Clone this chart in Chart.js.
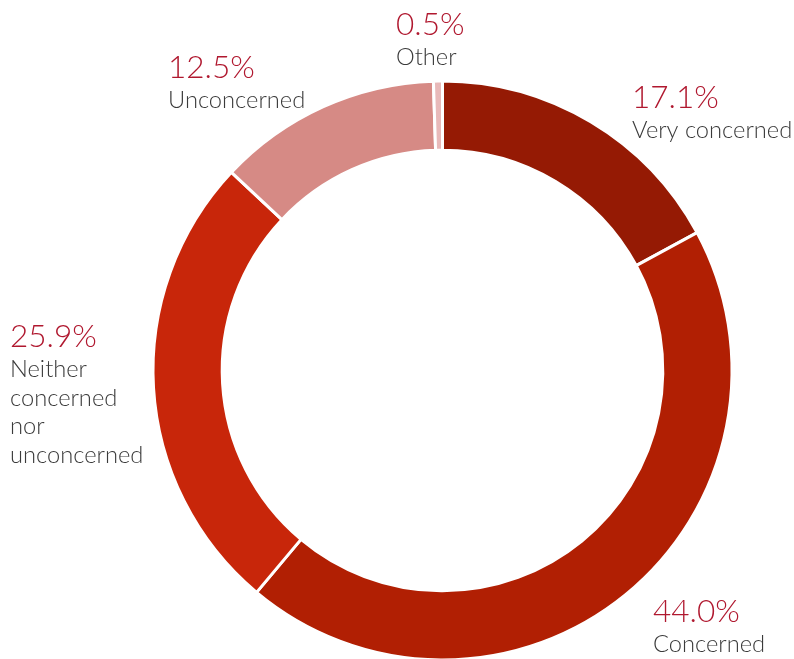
<!DOCTYPE html>
<html><head><meta charset="utf-8">
<script src="https://cdn.jsdelivr.net/npm/chart.js@4/dist/chart.umd.min.js"></script>
<style>html,body{margin:0;padding:0;background:#fff;overflow:hidden}#wrap{width:794px;height:659px;overflow:hidden}</style>
</head><body><div id="wrap"><canvas id="c" width="794" height="666"></canvas></div>
<script>
const categories = ["Very concerned", "Concerned", "Neither concerned nor unconcerned", "Unconcerned", "Other"];
const values = [17.1, 44.0, 25.9, 12.5, 0.5];
const labelLines = [["Very concerned"], ["Concerned"], ["Neither", "concerned", "nor", "unconcerned"], ["Unconcerned"], ["Other"]];
const colors = ["#951a04", "#b11f03", "#c8260a", "#d68a85", "#e8b9b9"];
// label anchor (left x, baseline y of percentage)
const labelPos = [[632, 108], [653, 622], [10, 347], [168, 78], [396, 35]];

const labelPlugin = {
  id: 'labels',
  afterDraw(chart) {
    const ctx = chart.ctx;
    ctx.save();
    ctx.textAlign = 'left';
    ctx.textBaseline = 'alphabetic';
    values.forEach((v, i) => {
      const [x, y] = labelPos[i];
      ctx.fillStyle = '#b0182f';
      ctx.font = '300 31.5px Lato';
      ctx.fillText(v.toFixed(1) + '%', x, y);
      ctx.fillStyle = '#3a3a3a';
      ctx.font = '300 23.7px Lato';
      labelLines[i].forEach((t, j) => ctx.fillText(t, x, y + 30 + 28.7 * j));
    });
    ctx.restore();
  }
};

new Chart(document.getElementById('c'), {
  type: 'doughnut',
  data: { labels: categories, datasets: [{ data: values, backgroundColor: colors, borderColor: '#ffffff', borderWidth: 3 }] },
  options: {
    responsive: false, animation: false, cutout: '76.1%',
    layout: { padding: { top: 79.5, bottom: 4.5, left: 91, right: 0 } },
    plugins: { legend: { display: false }, tooltip: { enabled: false } }
  },
  plugins: [labelPlugin]
});
</script></body></html>
